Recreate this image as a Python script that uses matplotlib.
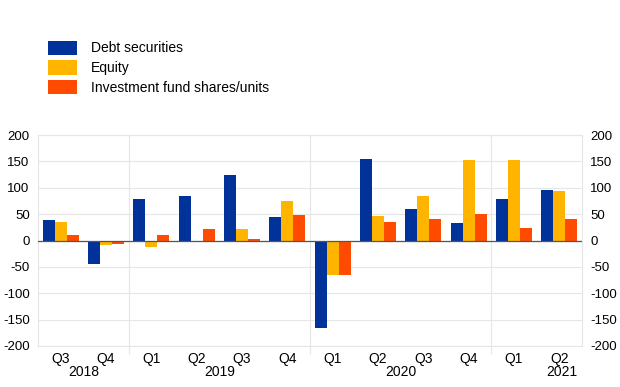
import matplotlib.pyplot as plt
import numpy as np

plt.rcParams['font.family'] = ['Liberation Sans', 'DejaVu Sans']
plt.rcParams['axes.unicode_minus'] = False

quarters = ['Q3', 'Q4', 'Q1', 'Q2', 'Q3', 'Q4', 'Q1', 'Q2', 'Q3', 'Q4', 'Q1', 'Q2']
years = ['2018', '2019', '2020', '2021']
debt = [38, -44, 79, 85, 125, 44, -165, 154, 60, 34, 79, 96]
equity = [35, -8, -13, -3, 22, 75, -66, 46, 85, 153, 152, 93]
funds = [11, -7, 11, 22, 2, 48, -66, 36, 41, 51, 23, 41]

labels = ['Debt securities', 'Equity', 'Investment fund shares/units']
colors = ['#003299', '#ffb400', '#ff4b00']

fig = plt.figure(figsize=(6.2, 3.87), dpi=100)
ax = fig.add_axes([0.0613, 0.106, 0.8774, 0.545])

x = np.arange(len(quarters))
w = 0.265
for i, (vals, c, lab) in enumerate(zip([debt, equity, funds], colors, labels)):
    ax.bar(x + (i - 1) * w, vals, w, color=c, label=lab, zorder=3)

ax.set_xlim(-0.5, len(quarters) - 0.5)
ax.set_ylim(-200, 200)
ax.set_yticks(range(-200, 201, 50))
ax.grid(axis='y', color='#e6e6e6', lw=0.8, zorder=0)
ax.axhline(0, color='#555555', lw=0.9, zorder=4)

ax.set_xticks(x)
ax.set_xticklabels(quarters, fontsize=10)
ax.tick_params(axis='x', length=0, pad=4)
seps = [1.5, 5.5, 9.5]
ax.set_xticks(seps, minor=True)
ax.tick_params(axis='x', which='minor', length=6, color='#e6e6e6', width=0.8)
for s in seps:
    ax.axvline(s, color='#e6e6e6', lw=0.8, zorder=0)

ax.tick_params(axis='y', length=0, labelsize=9.5, pad=6)
for sp in ax.spines.values():
    sp.set_color('#e6e6e6')
    sp.set_linewidth(0.8)

ax2 = ax.twinx()
ax2.set_ylim(-200, 200)
ax2.set_yticks(range(-200, 201, 50))
ax2.tick_params(axis='y', length=0, labelsize=9.5, pad=6)
for sp in ax2.spines.values():
    sp.set_visible(False)

year_pos = [0.5, 3.5, 7.5, 11.05]
for yp, yr in zip(year_pos, years):
    ax.text(yp, -0.09, yr, transform=ax.get_xaxis_transform(), ha='center', va='top', fontsize=10)

fig.legend(loc='upper left', bbox_to_anchor=(0.077, 0.895), frameon=False, fontsize=10,
           handlelength=2.1, handleheight=1.2, handletextpad=1.0, labelspacing=0.35,
           borderaxespad=0, borderpad=0)

fig.savefig('out.png', dpi=100)
